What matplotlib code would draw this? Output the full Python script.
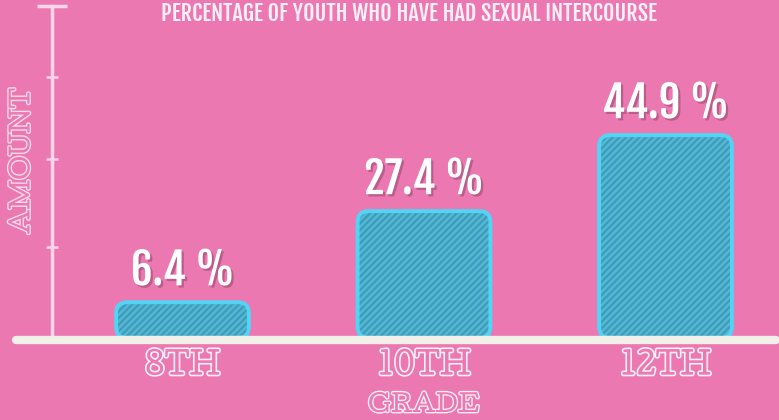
import matplotlib
matplotlib.use("Agg")
import matplotlib.pyplot as plt
import matplotlib.patheffects as pe
from matplotlib.patches import FancyBboxPatch

# chart data
grades = ["8TH", "10TH", "12TH"]
percent = [6.4, 27.4, 44.9]
value_labels = ["6.4 %", "27.4 %", "44.9 %"]
title = "PERCENTAGE OF YOUTH WHO HAVE HAD SEXUAL INTERCOURSE"
x_title = "GRADE"
y_title = "AMOUNT"
y_ticks = [19.1, 39.4, 58.3]

pink = "#ec78b2"
bar_fill = "#3a9dbc"
bar_hatch = "#58b6d2"
bar_edge = "#52d4f4"
base_col = "#f3efe9"
axis_col = "#f9d6ea"
label_white = "#fbeef5"

num_font = ["Fjalla One", "Oswald", "DejaVu Sans"]
slab_font = ["Cutive", "Courier Prime", "DejaVu Serif"]

plt.rcParams["hatch.linewidth"] = 1.8

fig = plt.figure(figsize=(7.79, 4.2), dpi=100)
fig.patch.set_facecolor(pink)
ax = fig.add_axes([0, 0, 1, 1])
ax.set_facecolor(pink)

# pixel scale: 241.5 px per category, 4.34 px per percent, zero at 330 px from top
px_x, px_y = 241.5, 4.34
ax.set_xlim(-182.5 / px_x, (779 - 182.5) / px_x)
ax.set_ylim(-(420 - 330) / px_y, 330 / px_y)
base_y = -10 / px_y

# bars
w = 0.55
for i, v in enumerate(percent):
    bottom = base_y + 0.5
    body = FancyBboxPatch((i - w / 2, bottom), w, v - bottom,
                          boxstyle="round,pad=0,rounding_size=0.045",
                          mutation_aspect=px_x / px_y,
                          facecolor=bar_fill, edgecolor=bar_hatch,
                          hatch="/////", linewidth=0, zorder=2)
    ax.add_patch(body)
    outline = FancyBboxPatch((i - w / 2, bottom), w, v - bottom,
                             boxstyle="round,pad=0,rounding_size=0.045",
                             mutation_aspect=px_x / px_y,
                             facecolor="none", edgecolor=bar_edge,
                             linewidth=2.8, zorder=3)
    ax.add_patch(outline)
    ax.text(i, v + 3.9, value_labels[i], ha="center", va="baseline",
            fontsize=31, color="white", family=num_font, zorder=4,
            path_effects=[pe.withSimplePatchShadow(offset=(1.6, -1.6),
                                                   shadow_rgbFace="#9c4a70",
                                                   alpha=0.6)])

# axes lines
for s in ["top", "right"]:
    ax.spines[s].set_visible(False)
ax.spines["left"].set_position(("data", (52 - 182.5) / px_x))
ax.spines["left"].set_bounds(base_y, (330 - 6) / px_y)
ax.spines["left"].set_color(axis_col)
ax.spines["left"].set_linewidth(2.5)
ax.spines["bottom"].set_position(("data", base_y))
ax.spines["bottom"].set_bounds((16 - 182.5) / px_x, (776 - 182.5) / px_x)
ax.spines["bottom"].set_color(base_col)
ax.spines["bottom"].set_linewidth(6)
ax.spines["bottom"].set_capstyle("round")
ax.spines["bottom"].set_zorder(5)

ax.set_yticks(y_ticks)
ax.set_yticklabels([])
ax.set_yticks([(330 - 6) / px_y], minor=True)
ax.tick_params(axis="y", which="major", direction="inout", length=9,
               width=1.8, color=axis_col)
ax.tick_params(axis="y", which="minor", direction="inout", length=22,
               width=2.5, color=axis_col)
ax.set_xticks([])

# category labels, outlined typewriter style
for i, g in enumerate(grades):
    ax.text(i, (330 - 366) / px_y, g, ha="center", va="center",
            fontsize=22, color=pink, family=slab_font, zorder=4,
            path_effects=[pe.withStroke(linewidth=2.4, foreground=label_white)])

ax.text(1, (330 - 405) / px_y, x_title, ha="center", va="center",
        fontsize=17, color=pink, family=slab_font,
        path_effects=[pe.withStroke(linewidth=2.0, foreground=label_white)])
ax.text((22 - 182.5) / px_x, (330 - 161) / px_y, y_title, ha="center",
        va="center", rotation=90, fontsize=18, color=pink, family=slab_font,
        path_effects=[pe.withStroke(linewidth=2.0, foreground="#f9dcea")])

fig.text(409 / 779, 1 - 1 / 420, title, ha="center", va="top",
         fontsize=16, color=label_white, family=num_font)

fig.savefig("out.png", dpi=100, facecolor=pink)
